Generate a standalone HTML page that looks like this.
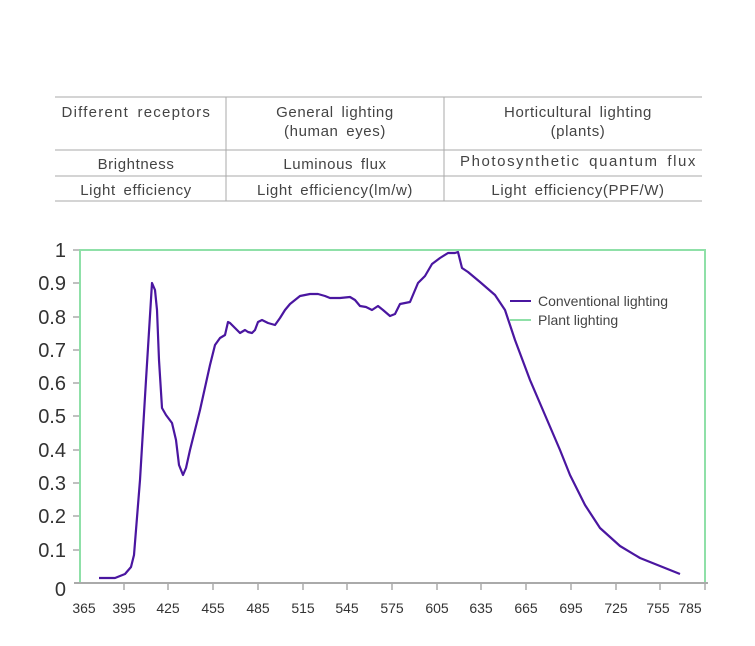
<!DOCTYPE html>
<html><head><style>
body{margin:0;background:#fff;font-family:"Liberation Sans",sans-serif;}
</style></head><body>
<svg width="755" height="646" xmlns="http://www.w3.org/2000/svg" style="display:block">
<g stroke="#aaa" stroke-width="1">
<line x1="55" y1="97" x2="702" y2="97"/>
<line x1="55" y1="150" x2="702" y2="150"/>
<line x1="55" y1="176" x2="702" y2="176"/>
<line x1="55" y1="201" x2="702" y2="201"/>
<line x1="226" y1="97" x2="226" y2="201"/>
<line x1="444" y1="97" x2="444" y2="201"/>
</g>
<g fill="#444" font-size="15" text-anchor="middle" letter-spacing="0.6" word-spacing="3">
<text x="136" y="117" textLength="149">Different receptors</text>
<text x="335" y="117">General lighting</text>
<text x="335" y="136">(human eyes)</text>
<text x="578" y="117">Horticultural lighting</text>
<text x="578" y="136">(plants)</text>
<text x="136" y="169">Brightness</text>
<text x="335" y="169">Luminous flux</text>
<text x="578" y="166" textLength="236">Photosynthetic quantum flux</text>
<text x="136" y="195">Light efficiency</text>
<text x="335" y="195">Light efficiency(lm/w)</text>
<text x="578" y="195">Light efficiency(PPF/W)</text>
</g>
<rect x="80" y="250" width="625" height="333" fill="none" stroke="#8fe0a8" stroke-width="2"/>
<g stroke="#aaa" stroke-width="2">
<line x1="74" y1="583" x2="708" y2="583"/>
</g>
<g stroke="#aaa" stroke-width="1.5">
<line x1="73" y1="250" x2="79" y2="250"/><line x1="73" y1="283" x2="79" y2="283"/><line x1="73" y1="317" x2="79" y2="317"/><line x1="73" y1="350" x2="79" y2="350"/><line x1="73" y1="383" x2="79" y2="383"/><line x1="73" y1="416" x2="79" y2="416"/><line x1="73" y1="450" x2="79" y2="450"/><line x1="73" y1="483" x2="79" y2="483"/><line x1="73" y1="516" x2="79" y2="516"/><line x1="73" y1="550" x2="79" y2="550"/>
<line x1="124" y1="583" x2="124" y2="590"/><line x1="168" y1="583" x2="168" y2="590"/><line x1="213" y1="583" x2="213" y2="590"/><line x1="258" y1="583" x2="258" y2="590"/><line x1="303" y1="583" x2="303" y2="590"/><line x1="347" y1="583" x2="347" y2="590"/><line x1="392" y1="583" x2="392" y2="590"/><line x1="437" y1="583" x2="437" y2="590"/><line x1="481" y1="583" x2="481" y2="590"/><line x1="526" y1="583" x2="526" y2="590"/><line x1="571" y1="583" x2="571" y2="590"/><line x1="616" y1="583" x2="616" y2="590"/><line x1="660" y1="583" x2="660" y2="590"/><line x1="705" y1="583" x2="705" y2="590"/>
</g>
<g fill="#333" font-size="20" text-anchor="end">
<text x="66" y="257">1</text><text x="66" y="290">0.9</text><text x="66" y="324">0.8</text><text x="66" y="357">0.7</text><text x="66" y="390">0.6</text><text x="66" y="423">0.5</text><text x="66" y="457">0.4</text><text x="66" y="490">0.3</text><text x="66" y="523">0.2</text><text x="66" y="557">0.1</text><text x="66" y="596">0</text>
</g>
<g fill="#333" font-size="14" text-anchor="middle">
<text x="84" y="613">365</text><text x="124" y="613">395</text><text x="168" y="613">425</text><text x="213" y="613">455</text><text x="258" y="613">485</text><text x="303" y="613">515</text><text x="347" y="613">545</text><text x="392" y="613">575</text><text x="437" y="613">605</text><text x="481" y="613">635</text><text x="526" y="613">665</text><text x="571" y="613">695</text><text x="616" y="613">725</text><text x="658" y="613">755</text><text x="690" y="613">785</text>
</g>
<polyline fill="none" stroke="#4a16a0" stroke-width="2.2" stroke-linejoin="round" points="99,578 115,578 125,574 131,567 134,555 140,480 146,380 152,283 155,290 157,310 159,360 162,408 166,415 172,423 176,440 179,465 183,475 186,468 190,450 200,410 210,365 215,345 220,338 225,335 228,322 230,323 235,328 240,333 245,330 248,332 252,333 255,330 258,322 262,320 268,323 275,325 280,318 285,310 290,304 295,300 300,296 310,294 318,294 325,296 330,298 340,298 350,297 355,300 360,306 366,307 372,310 378,306 383,310 390,316 395,314 400,304 410,302 418,283 425,276 432,264 440,258 448,253 455,253 458,252 462,268 468,272 480,282 495,295 505,310 515,340 530,380 545,415 560,450 570,475 585,505 600,528 620,546 640,558 660,566 680,574"/>
<line x1="510" y1="301" x2="531" y2="301" stroke="#4a16a0" stroke-width="2"/>
<line x1="510" y1="320" x2="531" y2="320" stroke="#8fe0a8" stroke-width="2"/>
<g fill="#444" font-size="14">
<text x="538" y="306">Conventional lighting</text>
<text x="538" y="325">Plant lighting</text>
</g>
</svg>
</body></html>
